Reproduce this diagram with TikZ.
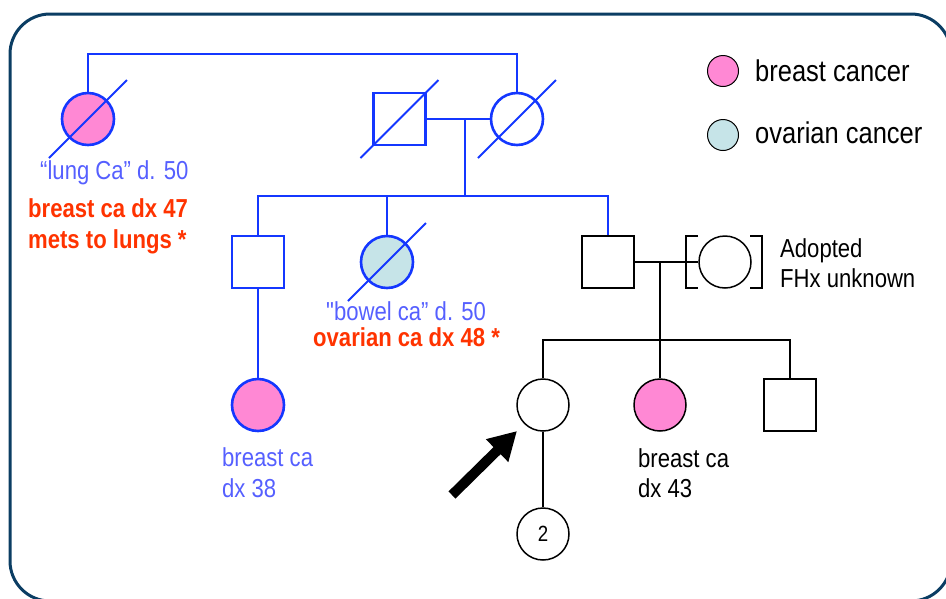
\documentclass[tikz,border=0pt]{standalone}
\usepackage{fontspec}
\setmainfont{Liberation Sans}[FakeStretch=0.85]
\usetikzlibrary{arrows.meta,calc}

\definecolor{lineblue}{RGB}{20,55,255}
\definecolor{textblue}{RGB}{85,95,255}
\definecolor{notered}{RGB}{255,51,0}
\definecolor{pinkfill}{RGB}{255,136,212}
\definecolor{ovfill}{RGB}{198,228,232}
\definecolor{framecol}{RGB}{11,61,99}

% straight ASCII double quote, outside the TeX quote mapping
\newcommand{\straightquote}{{\addfontfeatures{Ligatures=TeXOff}"}}

\tikzset{
  bl/.style={draw=lineblue, line width=2.6pt},
  bk/.style={draw=black, line width=1.5pt},
  fem/.style={circle, minimum size=52pt, inner sep=0pt},
  mal/.style={rectangle, minimum size=52pt, inner sep=0pt},
  key/.style={circle, minimum size=31pt, inner sep=0pt, draw=black, line width=1pt},
  lbl/.style={font=\fontsize{26}{31}\selectfont, inner sep=0pt},
  keylbl/.style={font=\fontsize{30}{36}\selectfont, inner sep=0pt, anchor=base west},
  slash/.style={draw=lineblue, line width=2pt},
}

\begin{document}
\begin{tikzpicture}[x=1pt, y=-1pt]
\useasboundingbox (0,0) rectangle (946,598);
\begin{scope}
\clip (0,0) rectangle (946,598);
\draw[framecol, line width=3pt, rounded corners=40pt] (10,14) rectangle (951,601);
\end{scope}

% grandparents
\node[fem, bl, fill=pinkfill] (gmL) at (88,119) {};
\node[mal, bl] (gf) at (399.5,119) {};
\node[fem, bl] (gmR) at (517,119) {};
\draw[slash] ($(gmL)+(-39,39)$) -- ($(gmL)+(39,-39)$);
\draw[slash] ($(gf)+(-39,39)$) -- ($(gf)+(39,-39)$);
\draw[slash] ($(gmR)+(-39,39)$) -- ($(gmR)+(39,-39)$);

\coordinate (topbar) at (300,54);
\draw[bl] (gmL.north) |- (topbar) -| (gmR.north);
\draw[bl] (gf.east) -- (gmR.west);
\coordinate (m1) at (465,119);
\coordinate (s1) at (465,196);
\draw[bl] (m1) -- (s1);

% parents' generation
\node[mal, bl] (c1) at (258,262) {};
\node[fem, bl, fill=ovfill] (c2) at (387,262) {};
\node[mal, bk] (c3) at (608,262) {};
\node[fem, bk] (sp) at (725,262) {};
\draw[slash] ($(c2)+(-39,39)$) -- ($(c2)+(39,-39)$);
\draw[bl] (c1.north) |- (s1) -| (c3.north);
\draw[bl] (c2.north) -- (c2.north |- s1);

% adoption brackets
\draw[bk, line width=1.3pt] ($(sp)+(-27,-26)$) -- ($(sp)+(-39,-26)$) -- ($(sp)+(-39,26)$) -- ($(sp)+(-27,26)$);
\draw[bk, line width=1.3pt] ($(sp)+(25,-26)$) -- ($(sp)+(37,-26)$) -- ($(sp)+(37,26)$) -- ($(sp)+(25,26)$);
\draw[bk] (c3.east) -- (sp.west);

\coordinate (m2) at (660,262);
\coordinate (s2) at (660,340);
\draw[bk] (m2) -- (s2);

% youngest generations
\node[fem, bl, fill=pinkfill] (cous) at (258,405) {};
\draw[bl] (c1.south) -- (cous.north);

\node[fem, bk] (pro) at (543,405) {};
\node[fem, bk, fill=pinkfill] (sis) at (660,405) {};
\node[mal, bk] (bro) at (790,405) {};
\draw[bk] (pro.north) |- (s2) -| (bro.north);
\draw[bk] (sis.north) -- (sis.north |- s2);

\node[fem, bk, font=\fontsize{22}{24}\selectfont] (kid) at (543,534) {2};
\draw[bk] (pro.south) -- (kid.north);

% proband arrow
\coordinate (arrowtail) at (452,495);
\coordinate (arrowtip) at (517,431);
\draw[line width=10pt, -{Triangle[length=28pt, width=30pt]}] (arrowtail) -- (arrowtip);

% annotations
\node[lbl, text=textblue, anchor=base west] (t1) at (40,179) {“lung Ca” d. 50};
\node[lbl, text=notered, anchor=base west, font=\fontsize{26}{31}\selectfont\bfseries] (t2) at (28,217) {breast ca dx 47};
\node[lbl, text=notered, anchor=base west, font=\fontsize{26}{31}\selectfont\bfseries] (t3) at (28,248) {mets to lungs *};

\node[lbl, text=textblue, anchor=base west] (t4) at (326,320) {\straightquote bowel ca” d. 50};
\node[lbl, text=notered, anchor=base west, font=\fontsize{26}{31}\selectfont\bfseries] (t5) at (313,346) {ovarian ca dx 48 *};

\node[lbl, text=textblue, anchor=base west] (t6) at (222,466) {breast ca};
\node[lbl, text=textblue, anchor=base west] (t7) at (222,497) {dx 38};

\node[lbl, anchor=base west] (t8) at (638,467) {breast ca};
\node[lbl, anchor=base west] (t9) at (638,497) {dx 43};

\node[lbl, anchor=base west] (t10) at (780,257) {Adopted};
\node[lbl, anchor=base west] (t11) at (780,287) {FHx unknown};

% key
\node[key, fill=pinkfill] (k1) at (723,71) {};
\node[key, fill=ovfill] (k2) at (723,135) {};
\node[keylbl] (k1t) at (755,81) {breast cancer};
\node[keylbl] (k2t) at (755,143) {ovarian cancer};
\end{tikzpicture}
\end{document}
